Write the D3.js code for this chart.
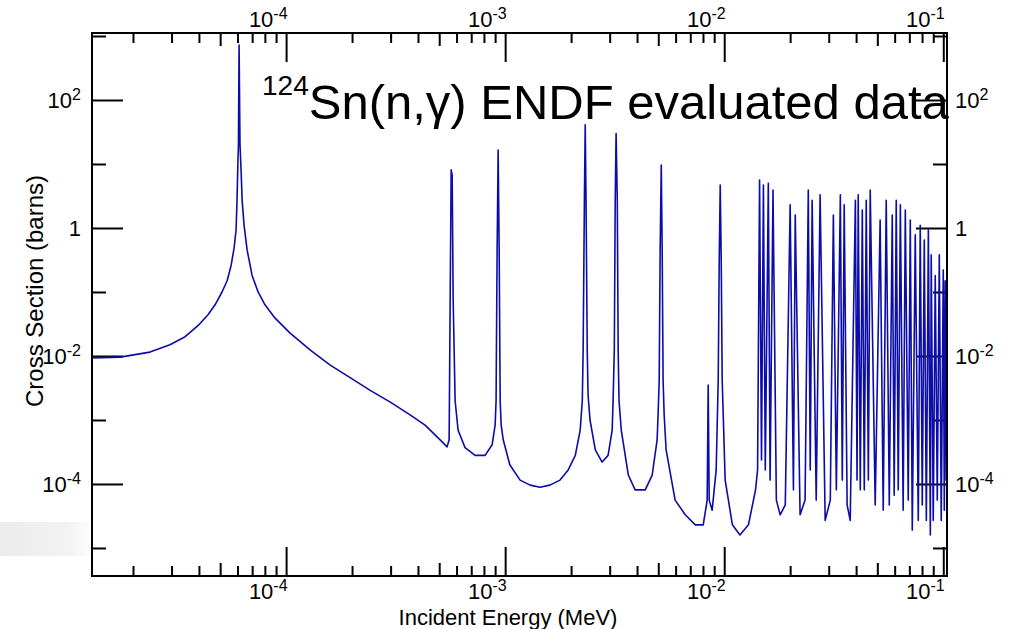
<!DOCTYPE html>
<html>
<head>
<meta charset="utf-8">
<script src="https://cdn.jsdelivr.net/npm/d3@7"></script>
<style>
body { margin: 0; background: #fff; }
svg { display: block; font-family: "Liberation Sans", Arial, Helvetica, sans-serif; }
</style>
</head>
<body>
<svg id="chart" width="1013" height="629"></svg>
<script>
// 124Sn(n,g) capture cross section
// below ~13 keV: isolated resonances
var energyLow = [
	1.31e-5, 1.75e-5, 2.39e-5, 2.95e-5, 3.46e-5, 3.97e-5, 4.40e-5, 4.74e-5, 5.10e-5, 5.38e-5,
	5.61e-5, 5.79e-5, 5.91e-5, 5.97e-5, 6.03e-5, 6.06e-5, 6.10e-5, 6.16e-5, 6.23e-5, 6.30e-5,
	6.43e-5, 6.64e-5, 7.00e-5, 7.45e-5, 8.01e-5, 8.91e-5, 1.04e-4, 1.29e-4, 1.59e-4, 1.96e-4,
	2.42e-4, 2.99e-4, 3.68e-4, 4.31e-4, 5.05e-4, 5.43e-4, 5.55e-4, 5.61e-4, 5.67e-4, 5.73e-4,
	5.79e-4, 5.91e-4, 6.10e-4, 6.56e-4, 7.29e-4, 8.10e-4, 8.72e-4,
	9.00e-4, 9.09e-4, 9.19e-4, 9.29e-4, 9.39e-4, 9.49e-4, 9.59e-4, 9.80e-4,
	1.05e-3, 1.17e-3, 1.30e-3, 1.44e-3, 1.60e-3, 1.78e-3, 1.94e-3, 2.09e-3, 2.20e-3,
	2.25e-3, 2.27e-3, 2.30e-3, 2.32e-3, 2.34e-3, 2.37e-3, 2.39e-3, 2.44e-3,
	2.58e-3, 2.77e-3, 2.95e-3, 3.08e-3,
	3.11e-3, 3.15e-3, 3.18e-3, 3.21e-3, 3.25e-3, 3.28e-3, 3.31e-3, 3.39e-3,
	3.65e-3, 3.92e-3, 4.36e-3, 4.69e-3, 4.94e-3,
	4.99e-3, 5.05e-3, 5.10e-3, 5.16e-3, 5.21e-3, 5.26e-3, 5.32e-3, 5.43e-3,
	5.97e-3, 6.64e-3, 7.38e-3, 8.02e-3, 8.36e-3, 8.45e-3, 8.54e-3, 8.81e-3,
	9.19e-3, 9.39e-3, 9.49e-3, 9.59e-3, 9.69e-3, 9.79e-3, 1.01e-2,
	1.09e-2, 1.18e-2, 1.29e-2
];
var sigmaLow = [
	0.0093, 0.0096, 0.0115, 0.015, 0.020, 0.030, 0.044, 0.063, 0.10, 0.15,
	0.26, 0.49, 0.93, 2.7, 11.6, 20, 720, 20, 8.1, 2.7,
	1.1, 0.45, 0.18, 0.10, 0.063, 0.039, 0.023, 0.0124, 0.0072, 0.0046,
	0.0029, 0.0019, 0.0012, 8.3e-4, 4.9e-4, 3.8e-4, 4.9e-4, 0.075, 8.1, 6.7,
	0.075, 0.0020, 6.9e-4, 3.7e-4, 2.8e-4, 2.8e-4, 4.1e-4,
	8.3e-4, 0.0020, 0.45, 16.5, 0.45, 0.0020, 8.3e-4, 4.9e-4,
	2.0e-4, 1.15e-4, 9.6e-5, 8.9e-5, 9.6e-5, 1.15e-4, 1.66e-4, 2.8e-4, 6.9e-4,
	0.0020, 0.0124, 2.7, 41, 2.7, 0.0124, 0.0025, 0.0010,
	3.4e-4, 2.2e-4, 2.8e-4, 6.9e-4,
	0.0020, 0.0124, 2.7, 30, 2.7, 0.0124, 0.0020, 6.9e-4,
	1.38e-4, 8.1e-5, 8.1e-5, 1.38e-4, 4.9e-4,
	0.0012, 0.0042, 0.45, 9.6, 0.45, 0.0042, 0.0012, 3.4e-4,
	5.6e-5, 3.3e-5, 2.3e-5, 2.3e-5, 5.6e-5, 0.0035, 5.6e-5, 3.9e-5,
	1.66e-4, 0.0042, 0.32, 4.7, 0.32, 0.0042, 1.15e-4,
	2.3e-5, 1.6e-5, 2.3e-5
];
// above ~13 keV: dense forest of resonances
var energyHigh = [
	1.39e-2, 1.42e-2, 1.45e-2, 1.48e-2, 1.51e-2, 1.54e-2, 1.59e-2, 1.62e-2, 1.67e-2, 1.73e-2,
	1.80e-2, 1.90e-2, 2.00e-2, 2.07e-2, 2.11e-2, 2.22e-2, 2.34e-2, 2.42e-2, 2.47e-2, 2.52e-2,
	2.63e-2, 2.74e-2, 2.89e-2, 3.05e-2, 3.15e-2, 3.25e-2, 3.39e-2, 3.46e-2, 3.53e-2, 3.64e-2,
	3.76e-2, 3.97e-2, 4.04e-2, 4.09e-2, 4.18e-2, 4.27e-2, 4.36e-2, 4.45e-2, 4.55e-2, 4.64e-2,
	4.89e-2, 5.15e-2, 5.32e-2, 5.49e-2, 5.67e-2, 5.85e-2, 5.97e-2, 6.10e-2, 6.23e-2, 6.37e-2,
	6.56e-2, 6.71e-2, 6.92e-2, 7.07e-2, 7.22e-2, 7.45e-2, 7.69e-2, 7.85e-2, 8.02e-2, 8.19e-2,
	8.37e-2, 8.55e-2, 8.73e-2, 8.81e-2, 9.00e-2, 9.19e-2, 9.39e-2, 9.59e-2, 9.79e-2, 0.100,
	0.1011, 0.102, 0.1032, 0.104
];
var sigmaHigh = [
	8.1e-5, 1.66e-4, 5.6, 2.37e-4, 4.7, 1.66e-4, 5.0, 1.15e-4, 3.9, 5.6e-5,
	3.3e-5, 4.7e-5, 2.3, 8.1e-5, 1.6, 3.3e-5, 5.6e-5, 3.9, 1.66e-4, 2.7,
	5.6e-5, 3.3, 2.7e-5, 5.6e-5, 1.6, 8.1e-5, 3.3, 1.15e-4, 2.3, 4.7e-5,
	2.7e-5, 2.7, 1.15e-4, 3.3, 8.1e-5, 1.9, 8.1e-5, 2.7, 1.15e-4, 3.9,
	4.7e-5, 1.33, 3.9e-5, 2.7, 4.7e-5, 1.6, 6.7e-5, 2.7, 8.1e-5, 2.3,
	3.9e-5, 1.9, 5.6e-5, 1.33, 1.9e-5, 0.78, 2.7e-5, 1.1, 4.7e-5, 0.65,
	2.7e-5, 0.93, 1.6e-5, 0.38, 2.7e-5, 0.18, 5.6e-5, 0.38, 2.7e-5, 0.22,
	3.9e-5, 0.15, 1.15e-4, 1.15e-4
];

var xLabelled = [1e-4, 1e-3, 1e-2, 1e-1];
var xDecades = [1e-5, 1e-4, 1e-3, 1e-2, 1e-1];
var minorSteps = [2, 3, 4, 6, 7, 8, 9];
var yLabelled = [1e2, 1, 1e-2, 1e-4];
var yUnlabelled = [1e3, 1e1, 1e-1, 1e-3, 1e-5];

var svg = d3.select("#chart");
var margin = {top: 33, right: 66, bottom: 53, left: 92};
var width = +svg.attr("width") - margin.left - margin.right;
var height = +svg.attr("height") - margin.top - margin.bottom;

var x = d3.scaleLog().domain([1.30e-5, 0.104]).range([0, width]);
var y = d3.scaleLog().domain([3.65e-6, 1114]).range([height, 0]);

// grey smudge left over from the slide, bottom left
var grad = svg.append("defs").append("linearGradient").attr("id", "smudge");
grad.append("stop").attr("offset", "0%").attr("stop-color", "#ececec");
grad.append("stop").attr("offset", "75%").attr("stop-color", "#f2f2f2");
grad.append("stop").attr("offset", "100%").attr("stop-color", "#fcfcfc");
svg.append("rect")
	.attr("x", 0).attr("y", 522).attr("width", 90).attr("height", 34)
	.attr("fill", "url(#smudge)");

svg.select("defs").append("clipPath").attr("id", "plotClip")
	.append("rect").attr("width", width).attr("height", height);

var g = svg.append("g")
	.attr("transform", "translate(" + margin.left + "," + margin.top + ")");

var minorX = [], midX = [];
xDecades.forEach(function(d) {
	minorSteps.forEach(function(s) {
		var v = d * s;
		if (v > x.domain()[0] && v < x.domain()[1]) minorX.push(v);
	});
	if (d * 5 < x.domain()[1]) midX.push(d * 5);
});

function powLabel(sel, anchor) {
	sel.each(function(d) {
		var t = d3.select(this).text(null).attr("text-anchor", anchor);
		var p = Math.round(Math.log10(d));
		if (p === 0) { t.text("1"); return; }
		t.append("tspan").text("10");
		t.append("tspan").attr("font-size", 16).attr("dy", -8).text(p);
	});
}

function styleAxis(a) {
	a.select(".domain").remove();
	a.selectAll("line").attr("stroke", "#000").attr("stroke-width", 2);
	a.selectAll("text").attr("fill", "#000").attr("font-size", 22)
		.attr("font-family", "Liberation Sans, Arial, sans-serif");
}

// bottom
var ax = g.append("g").attr("transform", "translate(0," + height + ")")
	.call(d3.axisBottom(x).tickValues(xLabelled).tickSize(-29));
styleAxis(ax);
ax.selectAll(".tick text").attr("y", 23).attr("dy", null).attr("x", 1).call(powLabel, "end");
g.append("g").attr("transform", "translate(0," + height + ")")
	.call(d3.axisBottom(x).tickValues(minorX).tickSize(-10).tickFormat(""))
	.call(styleAxis);
g.append("g").attr("transform", "translate(0," + height + ")")
	.call(d3.axisBottom(x).tickValues(midX).tickSize(-13).tickFormat(""))
	.call(styleAxis);

// top
var axT = g.append("g")
	.call(d3.axisTop(x).tickValues(xLabelled).tickSize(-29));
styleAxis(axT);
axT.selectAll(".tick text").attr("y", -6).attr("dy", null).attr("x", 1).call(powLabel, "end");
g.append("g")
	.call(d3.axisTop(x).tickValues(minorX).tickSize(-10).tickFormat(""))
	.call(styleAxis);
g.append("g")
	.call(d3.axisTop(x).tickValues(midX).tickSize(-13).tickFormat(""))
	.call(styleAxis);

// left
var ay = g.append("g")
	.call(d3.axisLeft(y).tickValues(yLabelled).tickSize(-31));
styleAxis(ay);
ay.selectAll(".tick text").attr("x", -11).attr("dy", "0.36em").call(powLabel, "end");
g.append("g")
	.call(d3.axisLeft(y).tickValues(yUnlabelled).tickSize(-14).tickFormat(""))
	.call(styleAxis);

// right
var ayR = g.append("g").attr("transform", "translate(" + width + ",0)")
	.call(d3.axisRight(y).tickValues(yLabelled).tickSize(-31));
styleAxis(ayR);
ayR.selectAll(".tick text").attr("x", 8).attr("dy", "0.36em").call(powLabel, "start");
g.append("g").attr("transform", "translate(" + width + ",0)")
	.call(d3.axisRight(y).tickValues(yUnlabelled).tickSize(-14).tickFormat(""))
	.call(styleAxis);

// curve
var energy = energyLow.concat(energyHigh);
var sigma = sigmaLow.concat(sigmaHigh);
var pts = energy.map(function(e, i) { return [e, sigma[i]]; });
var line = d3.line()
	.x(function(d) { return x(d[0]); })
	.y(function(d) { return y(d[1]); });

g.append("path")
	.datum(pts)
	.attr("clip-path", "url(#plotClip)")
	.attr("fill", "none")
	.attr("stroke", "#0c0ca8")
	.attr("stroke-width", 1.6)
	.attr("stroke-linejoin", "round")
	.attr("d", line);

// frame
g.append("rect")
	.attr("width", width)
	.attr("height", height)
	.attr("fill", "none")
	.attr("stroke", "#000")
	.attr("stroke-width", 2);

// title
var title = svg.append("text")
	.attr("x", 262)
	.attr("y", 119)
	.attr("fill", "#000")
	.attr("font-size", 49);
title.append("tspan").attr("font-size", 28).attr("dy", -24).text("124");
title.append("tspan").attr("dy", 24).text("Sn(n,\u03b3) ENDF evaluated data");

// axis titles
svg.append("text")
	.attr("transform", "translate(43,291) rotate(-90)")
	.attr("text-anchor", "middle")
	.attr("font-size", 24)
	.text("Cross Section (barns)");

svg.append("text")
	.attr("x", 508)
	.attr("y", 625)
	.attr("text-anchor", "middle")
	.attr("font-size", 22)
	.text("Incident Energy (MeV)");
</script>
</body>
</html>
